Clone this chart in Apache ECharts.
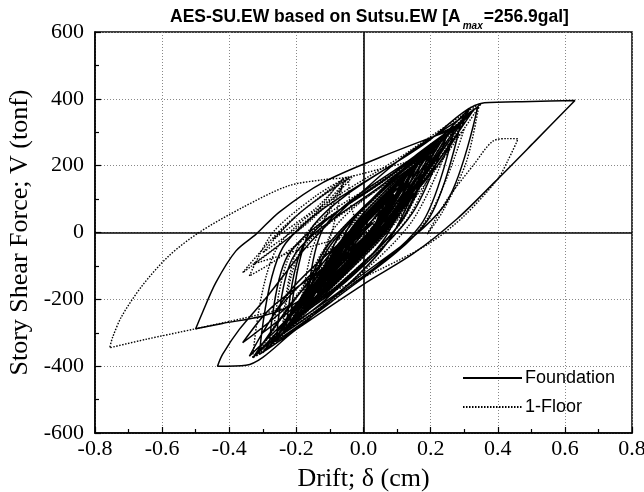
<!DOCTYPE html>
<html><head><meta charset="utf-8">
<script src="https://cdn.jsdelivr.net/npm/echarts@6/dist/echarts.min.js"></script>
<style>html,body{margin:0;padding:0;background:#fff}#c{width:644px;height:492px}</style>
</head><body><div id="c"></div>
<script>
const xTicks = [-0.8, -0.6, -0.4, -0.2, 0.0, 0.2, 0.4, 0.6, 0.8];
const yTicks = [-600, -400, -200, 0, 200, 400, 600];
const seriesNames = ['Foundation', '1-Floor'];

// Foundation: drift (cm), shear (tonf)
const foundation = [
[0,0],[0.025,35],[0.05,65],
[0.028,11],[-0.013,-33],[-0.04,-55],
[-0.01,17],[0.044,76],[0.08,105],
[0.043,15],[-0.025,-59],[-0.07,-95],
[-0.025,15],[0.056,106],[0.11,150],
[0.058,20],[-0.037,-88],[-0.10,-140],
[-0.04,6],[0.068,127],[0.14,185],
[0.073,21],[-0.049,-114],[-0.13,-180],
[-0.075,-40],[0.024,74],[0.09,130],
[0.028,-25],[-0.085,-153],[-0.16,-215],
[-0.075,-15],[0.078,150],[0.18,230],
[0.105,52],[-0.03,-94],[-0.12,-165],
[-0.038,26],[0.111,184],[0.21,260],
[0.11,30],[-0.07,-158],[-0.19,-250],
[-0.103,-45],[0.055,123],[0.16,205],
[0.063,-18],[-0.113,-201],[-0.23,-290],
[-0.172,-27],[0.106,190],[0.25,295],
[0.145,57],[-0.044,-140],[-0.17,-235],
[-0.115,19],[0.152,228],[0.29,330],
[0.19,35],[-0.095,-207],[-0.26,-325],
[-0.205,-66],[0.062,147],[0.20,250],
[0.073,-27],[-0.157,-254],[-0.31,-365],
[-0.232,-32],[0.145,242],[0.34,375],
[0.24,80],[-0.052,-162],[-0.22,-280],
[-0.15,20],[0.186,268],[0.36,388],[0.50,392],[0.63,395],
[0.51,272],[0.39,150],[0.28,42],[0.15,-62],[0.0,-155],[-0.2,-290],[-0.35,-397],[-0.435,-400],
[-0.42,-365],[-0.37,-290],[-0.29,-195],[-0.15,-20],[0.05,170],[0.18,270],[0.30,330],
[0.22,200],[0.10,60],[-0.05,-90],[-0.2,-210],[-0.3,-250],[-0.42,-272],[-0.50,-288],
[-0.48,-240],[-0.44,-150],[-0.38,-55],[-0.32,-5],[-0.25,62],[-0.12,150],[0.05,225],[0.27,310],
[0.17,22],[-0.115,-215],[-0.28,-330],
[-0.22,-60],[0.07,162],[0.22,270],
[0.115,36],[-0.074,-156],[-0.20,-250],
[-0.113,-48],[0.045,119],[0.15,200],
[0.083,38],[-0.039,-95],[-0.12,-160],
[-0.07,-39],[0.02,61],[0.08,110],
[0.048,29],[-0.011,-38],[-0.05,-70],
[-0.03,-20],[0.0,0],
[0.016,40],[0.06,80],[0.022,5],[-0.05,-70],[0.002,22],[0.09,115],[0.025,3],[-0.08,-110],
[-0.002,25],[0.12,160],[0.029,5],[-0.11,-150],[-0.006,22],[0.15,195],[0.032,3],[-0.14,-190],
[-0.044,-25],[0.10,140],[-0.009,-40],[-0.17,-220],[-0.022,8],[0.19,235],[0.059,32],[-0.13,-170],
[0.014,48],[0.22,265],[0.045,5],[-0.20,-255],[-0.047,-20],[0.17,215],[0.004,-38],[-0.23,-290],
[-0.029,0],[0.25,290],[0.071,25],[-0.18,-240],[0.012,40],[0.28,320],[0.052,0],[-0.26,-320],
[-0.063,-30],[0.21,260],[-0.004,-50],[-0.30,-360],[-0.033,5],[0.33,370],[0.089,35],[-0.24,-300],
[-0.012,20],[0.30,340],[0.055,0],[-0.28,-340],[-0.01,24],[0.32,375],
[0.016,-35],[-0.33,-375],[-0.054,-10],[0.32,355],[0.07,12],[-0.27,-330],[-0.056,-22],[0.24,285],
[0.048,5],[-0.22,-275],[-0.045,-12],[0.20,250],[0.043,10],[-0.18,-230],[-0.04,-12],[0.16,205],
[0.038,12],[-0.14,-180],[-0.036,-15],[0.12,150],[0.033,10],[-0.10,-130],[-0.031,-15],[0.08,100],
[0.028,15],[-0.06,-70],[-0.03,-20],[0.03,30],
[-0.06,-60],[-0.20,-230],[-0.34,-370],[-0.255,-230],[-0.12,-90],[-0.215,-210],[-0.36,-330],
[-0.28,-230],[-0.15,-130],[-0.20,-215],[-0.30,-300],[-0.215,-170],[-0.08,-40],[-0.18,-207],
[-0.33,-375],[-0.17,-157],[0.05,60],[0.10,120],[0.02,0],[-0.09,-120],[0.0,25],[0.13,170],
[0.03,15],[-0.11,-140],[-0.04,-35],[0.06,70],[0.01,-10],[-0.07,-90],[0,0]
];

// 1-Floor: drift (cm), shear (tonf)
const floor1 = [
[0,0],[0.02,25],[0.04,55],
[0.018,1],[-0.023,-43],[-0.05,-65],
[-0.015,18],[0.048,87],[0.09,120],
[0.048,19],[-0.029,-65],[-0.08,-105],
[-0.03,17],[0.06,116],[0.12,165],
[0.06,19],[-0.048,-102],[-0.12,-160],
[-0.048,9],[0.083,148],[0.17,215],
[0.09,28],[-0.054,-125],[-0.15,-200],
[-0.09,9],[0.109,181],[0.22,265],
[0.118,38],[-0.067,-149],[-0.19,-240],
[-0.155,-58],[-0.092,92],[-0.05,165],
[-0.123,32],[-0.253,-77],[-0.34,-130],
[-0.27,0],[-0.144,108],[-0.06,160],
[-0.105,-34],[-0.186,-193],[-0.24,-270],
[-0.179,-13],[0.117,197],[0.27,300],
[0.142,30],[-0.087,-192],[-0.24,-300],
[-0.187,-55],[0.068,147],[0.20,245],
[0.068,-34],[-0.171,-263],[-0.33,-375],
[-0.249,-33],[0.143,248],[0.345,385],
[0.306,210],[0.237,65],[0.19,-5],
[0.25,100],[0.33,205],[0.385,273],[0.43,281],[0.46,280],
[0.43,215],[0.40,160],[0.30,50],[0.20,-30],[0.05,-110],[-0.15,-200],[-0.30,-243],[-0.50,-288],[-0.65,-320],[-0.756,-345],
[-0.748,-315],[-0.72,-250],[-0.66,-160],[-0.58,-70],[-0.49,0],[-0.36,75],[-0.226,139],[-0.12,158],[-0.05,165],[0.05,190],[0.116,207],[0.196,234],[0.26,268],[0.30,310],
[0.18,27],[-0.099,-207],[-0.27,-320],
[-0.209,-50],[0.087,172],[0.24,280],
[0.128,37],[-0.075,-163],[-0.21,-260],
[-0.125,-62],[0.028,101],[0.13,180],
[0.073,41],[-0.031,-74],[-0.10,-130],
[-0.06,-35],[0.012,42],[0.06,80],
[0.037,28],[-0.007,-14],[-0.03,-35],
[0,0],
[0.015,47],[0.07,95],[0.029,5],[-0.06,-85],[-0.002,28],[0.11,140],[0.039,8],[-0.09,-125],
[-0.006,28],[0.14,180],[0.039,3],[-0.13,-175],[-0.012,25],[0.18,225],[0.049,8],[-0.16,-210],
[-0.007,32],[0.23,275],[0.056,5],[-0.21,-265],[-0.023,20],[0.26,305],[0.056,-5],[-0.25,-315],
[-0.024,18],[0.31,350],[0.067,0],[-0.29,-350],[-0.03,18],[0.35,385],[0.077,8],[-0.32,-370],
[-0.073,-18],[0.29,335],[0.086,25],[-0.22,-285],[-0.037,2],[0.24,290],[0.079,32],[-0.17,-225],
[-0.03,8],[0.19,240],[0.072,38],[-0.12,-165],[-0.027,5],[0.13,175],[0.059,38],[-0.07,-100],
[-0.033,-15],[0.05,70],[0.045,35],[0,0],
[-0.04,90],[-0.05,165],[-0.15,52],[-0.30,-60],[-0.195,54],[-0.04,168],[-0.175,24],[-0.36,-120],
[-0.235,20],[-0.06,160],[-0.145,70],[-0.27,-20],[-0.17,75],[-0.03,170],[-0.155,38],[-0.33,-95],
[-0.15,-40],[0,0]
];

const chart = echarts.init(document.getElementById('c'), null, {renderer: 'canvas'});
const serif = 'Liberation Serif';
const sans = 'Liberation Sans';
chart.setOption({
  animation: false,
  backgroundColor: '#fff',
  title: {
    text: '{a|AES-SU.EW based on Sutsu.EW [A}{s|max}{a|=256.9gal]}',
    left: 165, top: 3,
    textStyle: {
      rich: {
        a: {fontFamily: sans, fontWeight: 'bold', fontSize: 17.5, color: '#000'},
        s: {fontFamily: sans, fontStyle: 'italic', fontSize: 10, color: '#000', verticalAlign: 'bottom', padding: [0, 1, -5, 2]}
      }
    }
  },
  legend: {
    data: seriesNames,
    orient: 'vertical',
    left: 457, top: 364,
    itemWidth: 59, itemHeight: 14, itemGap: 11,
    itemStyle: {opacity: 0},
    textStyle: {fontFamily: sans, fontSize: 18, color: '#000', padding: [0, 0, 0, -2]}
  },
  grid: {left: 95, right: 12, top: 32, bottom: 59, show: true, borderColor: '#000', borderWidth: 1.5, backgroundColor: 'transparent', outerBoundsMode: 'none', containLabel: false},
  xAxis: {
    type: 'value', min: xTicks[0], max: xTicks[xTicks.length - 1], interval: 0.2,
    name: 'Drift; δ (cm)', nameLocation: 'middle', nameGap: 33,
    nameTextStyle: {fontFamily: serif, fontSize: 26, color: '#000'},
    axisLine: {show: true, onZero: false, lineStyle: {color: '#000', width: 1.5}},
    axisTick: {show: true, inside: true, length: 6, lineStyle: {color: '#000', width: 1.2}},
    minorTick: {show: true, splitNumber: 2, length: 4, lineStyle: {color: '#000', width: 1.2}},
    axisLabel: {fontFamily: serif, fontSize: 22, color: '#000', margin: 5, formatter: v => v.toFixed(1)},
    splitLine: {show: true, lineStyle: {color: '#888', width: 1, type: [1, 2]}}
  },
  yAxis: {
    type: 'value', min: yTicks[0], max: yTicks[yTicks.length - 1], interval: 200,
    name: 'Story Shear Force; V (tonf)', nameLocation: 'middle', nameGap: 60,
    nameTextStyle: {fontFamily: serif, fontSize: 26, color: '#000'},
    axisLine: {show: true, onZero: false, lineStyle: {color: '#000', width: 1.5}},
    axisTick: {show: true, inside: true, length: 6, lineStyle: {color: '#000', width: 1.2}},
    minorTick: {show: true, splitNumber: 2, length: 4, lineStyle: {color: '#000', width: 1.2}},
    axisLabel: {fontFamily: serif, fontSize: 22, color: '#000', margin: 11},
    splitLine: {show: true, lineStyle: {color: '#888', width: 1, type: [1, 2]}}
  },
  series: [
    {
      name: seriesNames[0], type: 'line', data: foundation,
      symbol: 'none', showSymbol: false, smooth: 0.3,
      lineStyle: {color: '#000', width: 1.5, type: 'solid'},
      itemStyle: {color: '#000'},
      markLine: {
        silent: true, symbol: 'none', label: {show: false},
        lineStyle: {color: '#000', width: 1.6, type: 'solid'},
        data: [{xAxis: 0}, {yAxis: 0}]
      },
      z: 3
    },
    {
      name: seriesNames[1], type: 'line', data: floor1,
      symbol: 'none', showSymbol: false, smooth: 0.3,
      lineStyle: {color: '#000', width: 1.4, type: [1.5, 1.5]},
      itemStyle: {color: '#000'},
      z: 2
    }
  ]
});
</script></body></html>
